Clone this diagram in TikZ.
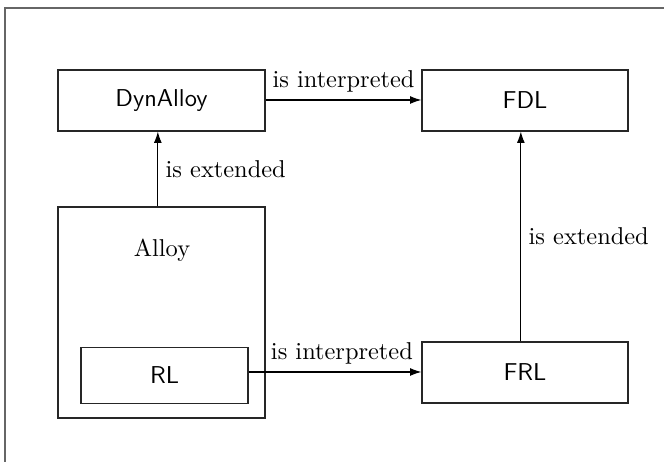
\documentclass[tikz,border=0pt]{standalone}
\usetikzlibrary{arrows.meta}
\begin{document}
\begin{tikzpicture}[x=0.41pt,y=-0.41pt,
  box/.style={draw=black!85, line width=0.45pt, inner sep=0pt, font=\sffamily},
  arr/.style={-{Latex[length=4.6pt,width=3.2pt]}, line width=0.45pt},
  lbl/.style={font=\rmfamily, inner sep=1pt}]
\useasboundingbox (0,0) rectangle (664,462);
\coordinate (fa) at (5,470);
\coordinate (fb) at (5,8);
\coordinate (fc) at (670,8);
\draw[gray!80!black, line width=0.7pt] (fa) -- (fb) -- (fc);
\node[box, minimum width=207*0.41pt, minimum height=61*0.41pt] (dyn) at (161.5,100.5) {DynAlloy};
\node[box, minimum width=206*0.41pt, minimum height=61*0.41pt] (fdl) at (525,100.5) {FDL};
\node[box, minimum width=207*0.41pt, minimum height=211*0.41pt] (alloy) at (161.5,312.5) {};
\node[font=\rmfamily] (alloylbl) at (162,250) {Alloy};
\node[box, minimum width=167*0.41pt, minimum height=56*0.41pt] (rl) at (164.5,375.5) {RL};
\node[box, minimum width=206*0.41pt, minimum height=61*0.41pt] (frl) at (525,372.5) {FRL};
\draw[arr] (dyn.east |- 0,100) -- node[lbl, above=2pt] (l1) {is interpreted} (fdl.west |- 0,100);
\draw[arr] ([xshift=-1.5pt]alloy.north) -- node[lbl, right=2pt] (l2) {is extended} ([xshift=-1.5pt]dyn.south);
\draw[arr] (rl.east |- 0,372) -- node[lbl, above=2pt, pos=0.54] (l3) {is interpreted} (frl.west |- 0,372);
\draw[arr] ([xshift=-1.7pt]frl.north) -- node[lbl, right=2pt] (l4) {is extended} ([xshift=-1.7pt]fdl.south);
\end{tikzpicture}
\end{document}
